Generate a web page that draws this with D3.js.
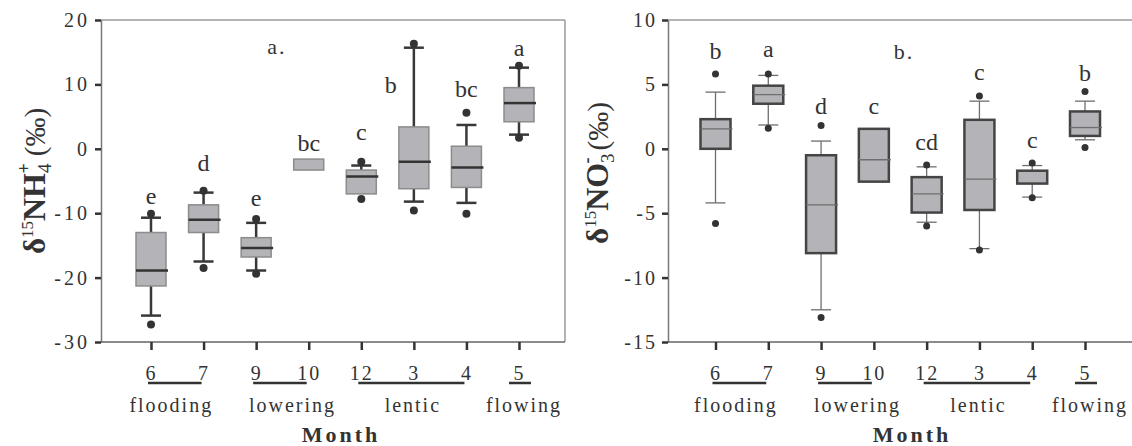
<!DOCTYPE html>
<html>
<head>
<meta charset="utf-8">
<script src="https://cdn.jsdelivr.net/npm/d3@7"></script>
<style>
  body { margin: 0; background: #fff; }
  svg { font-family: "Liberation Serif", "Times New Roman", serif; }
</style>
</head>
<body>
<svg width="1132" height="446"></svg>
<script>
// months on the x axis and the hydrological periods
const months = ["6", "7", "9", "10", "12", "3", "4", "5"];
const groupNames = ["flooding", "lowering", "lentic", "flowing"];
const groupFirst = ["6", "9", "12", "5"];
const groupLast = ["7", "10", "4", "5"];

// panel a: d15N-NH4+ box stats (null = not drawn)
const nh4Low = [-25.9, -17.5, -18.9, null, null, -8.2, -8.4, 2.2];
const nh4Q1 = [-21.3, -13.0, -16.8, -3.3, -7.0, -6.2, -6.0, 4.2];
const nh4Med = [-18.9, -11.0, -15.4, null, -4.3, -2.0, -2.9, 7.1];
const nh4Q3 = [-13.0, -8.7, -13.8, -1.6, -3.3, 3.4, 0.4, 9.5];
const nh4High = [-10.7, -6.8, -11.5, null, -2.6, 15.7, 3.7, 12.6];
const nh4Out = [[-27.3, -10.1], [-18.5, -6.5], [-19.4, -10.9], [], [-7.8, -2.0], [-9.6, 16.3], [-10.1, 5.6], [1.7, 12.9]];
const nh4Letters = ["e", "d", "e", "bc", "c", "b", "bc", "a"];
const nh4LetterAt = [-7.3, -2.2, -7.6, 0.9, 2.6, 9.9, 9.3, 15.7];
const nh4Ticks = [-30, -20, -10, 0, 10, 20];

// panel b: d15N-NO3- box stats
const no3Low = [-4.2, 1.85, -12.5, null, -5.7, -7.75, -3.75, 0.7];
const no3Q1 = [0.0, 3.5, -8.1, -2.55, -4.95, -4.75, -2.7, 1.0];
const no3Med = [1.55, 4.2, -4.35, -0.85, -3.5, -2.35, null, 1.65];
const no3Q3 = [2.3, 4.9, -0.5, 1.55, -2.2, 2.25, -1.7, 2.9];
const no3High = [4.4, 5.7, 0.6, null, -1.4, 3.7, -1.3, 3.7];
const no3Out = [[-5.8, 5.8], [1.6, 5.8], [-13.1, 1.8], [], [-6.0, -1.25], [-7.85, 4.1], [-3.8, -1.1], [0.1, 4.45]];
const no3Letters = ["b", "a", "d", "c", "cd", "c", "c", "b"];
const no3LetterAt = [7.6, 7.75, 3.35, 3.35, 0.55, 6.0, 0.7, 5.9];
const no3Ticks = [-15, -10, -5, 0, 5, 10];

var svg = d3.select("svg");

function rows(low, q1, med, q3, high, out, letters, at) {
    return months.map((m, i) => ({
        m: m, low: low[i], q1: q1[i], med: med[i], q3: q3[i], high: high[i],
        out: out[i], letter: letters[i], at: at[i]
    }));
}

// small nudges of the period names relative to their months
const groupDx = [-6, 10, -1, 5];

function drawPanel(p) {
    let g = svg.append("g");
    let x = d3.scalePoint().domain(months).range(p.xRange);
    let y = d3.scaleLinear().domain(p.yDomain).range([342, 20]);

    // frame (top and right)
    g.append("line").attr("x1", p.left).attr("x2", p.right).attr("y1", 20).attr("y2", 20)
        .attr("stroke", "#9a9a9a").attr("stroke-width", 1.5);
    g.append("line").attr("x1", p.right).attr("x2", p.right).attr("y1", 20).attr("y2", 342)
        .attr("stroke", "#9a9a9a").attr("stroke-width", 1.5);

    // y axis
    let ya = g.append("g").attr("transform", "translate(" + p.left + ",0)")
        .call(d3.axisLeft(y).tickValues(p.ticks).tickSize(6).tickPadding(5).tickSizeOuter(0)
            .tickFormat((d) => String(d)));
    ya.select(".domain").attr("stroke", "#777").attr("stroke-width", 1.5);
    ya.selectAll(".tick line").attr("stroke", "#333").attr("stroke-width", 2.5);
    ya.selectAll(".tick text").attr("font-size", 20).attr("fill", "#333")
        .attr("font-family", "Liberation Serif").style("letter-spacing", p.tickSpacing);

    // x axis
    let xa = g.append("g").attr("transform", "translate(0,342)")
        .call(d3.axisBottom(x).tickSize(8).tickPadding(16).tickSizeOuter(0));
    xa.select(".domain").attr("d", "M" + p.left + ",0H" + p.right)
        .attr("stroke", "#666").attr("stroke-width", 1.5);
    xa.selectAll(".tick line").attr("stroke", "#333").attr("stroke-width", 2.5);
    xa.selectAll(".tick text").attr("font-size", 20).attr("fill", "#333")
        .attr("font-family", "Liberation Serif").style("letter-spacing", "2px");

    // period underlines and names
    groupNames.forEach((name, i) => {
        let a = x(groupFirst[i]), b = x(groupLast[i]);
        let x1 = a === b ? a - 10 : a - 3;
        let x2 = a === b ? b + 12 : b - 2;
        g.append("line").attr("x1", x1).attr("x2", x2).attr("y1", 383).attr("y2", 383)
            .attr("stroke", "#333").attr("stroke-width", 2.5);
        g.append("text").attr("x", (a + b) / 2 + groupDx[i]).attr("y", 412)
            .attr("text-anchor", "middle").attr("font-size", 20).attr("fill", "#333")
            .style("letter-spacing", "2px").text(name);
    });

    g.append("text").attr("x", (p.left + p.right) / 2 + 8).attr("y", 442)
        .attr("text-anchor", "middle").attr("font-size", 22).attr("font-weight", "bold")
        .attr("fill", "#333").style("letter-spacing", "3px").text("Month");

    let data = p.data;
    let hw = 15, cw = 10;

    // whiskers
    data.forEach((d) => {
        let cx = x(d.m);
        if (d.high != null) {
            g.append("line").attr("x1", cx).attr("x2", cx).attr("y1", y(d.q3)).attr("y2", y(d.high))
                .attr("stroke", p.whisker).attr("stroke-width", p.whiskerW);
            g.append("line").attr("x1", cx - cw).attr("x2", cx + cw).attr("y1", y(d.high)).attr("y2", y(d.high))
                .attr("stroke", p.whisker).attr("stroke-width", p.whiskerW);
        }
        if (d.low != null) {
            g.append("line").attr("x1", cx).attr("x2", cx).attr("y1", y(d.q1)).attr("y2", y(d.low))
                .attr("stroke", p.whisker).attr("stroke-width", p.whiskerW);
            g.append("line").attr("x1", cx - cw).attr("x2", cx + cw).attr("y1", y(d.low)).attr("y2", y(d.low))
                .attr("stroke", p.whisker).attr("stroke-width", p.whiskerW);
        }
    });

    // boxes
    g.selectAll(".box").data(data).enter().append("rect")
        .attr("class", "box")
        .attr("x", (d) => x(d.m) - hw)
        .attr("width", hw * 2)
        .attr("y", (d) => y(d.q3))
        .attr("height", (d) => y(d.q1) - y(d.q3))
        .attr("fill", "#b4b4b8")
        .attr("stroke", p.boxStroke)
        .attr("stroke-width", p.boxW);

    // medians
    g.selectAll(".med").data(data.filter((d) => d.med != null)).enter().append("line")
        .attr("x1", (d) => x(d.m) - hw)
        .attr("x2", (d) => x(d.m) + hw + 2)
        .attr("y1", (d) => y(d.med))
        .attr("y2", (d) => y(d.med))
        .attr("stroke", p.median)
        .attr("stroke-width", p.medianW);

    // outliers
    let pts = [];
    data.forEach((d) => d.out.forEach((v) => pts.push({ m: d.m, v: v })));
    g.selectAll(".dot").data(pts).enter().append("circle")
        .attr("cx", (d) => x(d.m))
        .attr("cy", (d) => y(d.v))
        .attr("r", p.dotR)
        .attr("fill", "#333");

    // significance letters
    g.selectAll(".lt").data(data).enter().append("text")
        .attr("x", (d) => x(d.m) + (p.shiftLetter === d.m ? -23 : 0))
        .attr("y", (d) => y(d.at))
        .attr("dy", "0.35em")
        .attr("text-anchor", "middle")
        .attr("font-size", 24)
        .attr("fill", "#333")
        .text((d) => d.letter);

    // panel tag
    g.append("text").attr("x", p.tagX).attr("y", p.tagY).attr("text-anchor", "middle")
        .attr("font-size", 22).attr("fill", "#333").style("letter-spacing", "2px").text(p.tag);

    // y title, built with dy shifts for the super/subscripts
    let t = g.append("text")
        .attr("transform", "translate(" + p.titleX + "," + p.titleY + ") rotate(-90)")
        .attr("text-anchor", "middle").attr("fill", "#333").attr("font-size", 30);
    t.append("tspan").attr("font-weight", "bold").attr("font-size", 31).text("δ");
    t.append("tspan").attr("font-size", 17).attr("dy", -12).text("15");
    t.append("tspan").attr("font-weight", "bold").attr("font-size", 32).attr("dy", 12).text(p.ion);
    t.append("tspan").attr("font-size", 19).attr("dy", 6).text(p.sub);
    t.append("tspan").attr("font-size", 18).attr("font-weight", "bold").attr("dx", -10).attr("dy", -21).text(p.sup);
    t.append("tspan").attr("font-size", 29).attr("dx", 7).attr("dy", 15).text("(‰)");
}

drawPanel({
    left: 101, right: 565, xRange: [151, 519], yDomain: [-30, 20], ticks: nh4Ticks,
    tickSpacing: "3px",
    data: rows(nh4Low, nh4Q1, nh4Med, nh4Q3, nh4High, nh4Out, nh4Letters, nh4LetterAt),
    whisker: "#383838", whiskerW: 2.5, boxStroke: "#8c8c8c", boxW: 1.5,
    median: "#333", medianW: 2.5, dotR: 4, shiftLetter: "3",
    tag: "a.", tagX: 277, tagY: 54,
    titleX: 45, titleY: 181, ion: "NH", sub: "4", sup: "+"
});

drawPanel({
    left: 668, right: 1140, xRange: [715.5, 1085], yDomain: [-15, 10], ticks: no3Ticks,
    tickSpacing: "2px",
    data: rows(no3Low, no3Q1, no3Med, no3Q3, no3High, no3Out, no3Letters, no3LetterAt),
    whisker: "#6e6e6e", whiskerW: 1.3, boxStroke: "#444", boxW: 2.5,
    median: "#6e6e6e", medianW: 1.3, dotR: 3.5, shiftLetter: null,
    tag: "b.", tagX: 904, tagY: 59,
    titleX: 608, titleY: 173, ion: "NO", sub: "3", sup: "-"
});
</script>
</body>
</html>
